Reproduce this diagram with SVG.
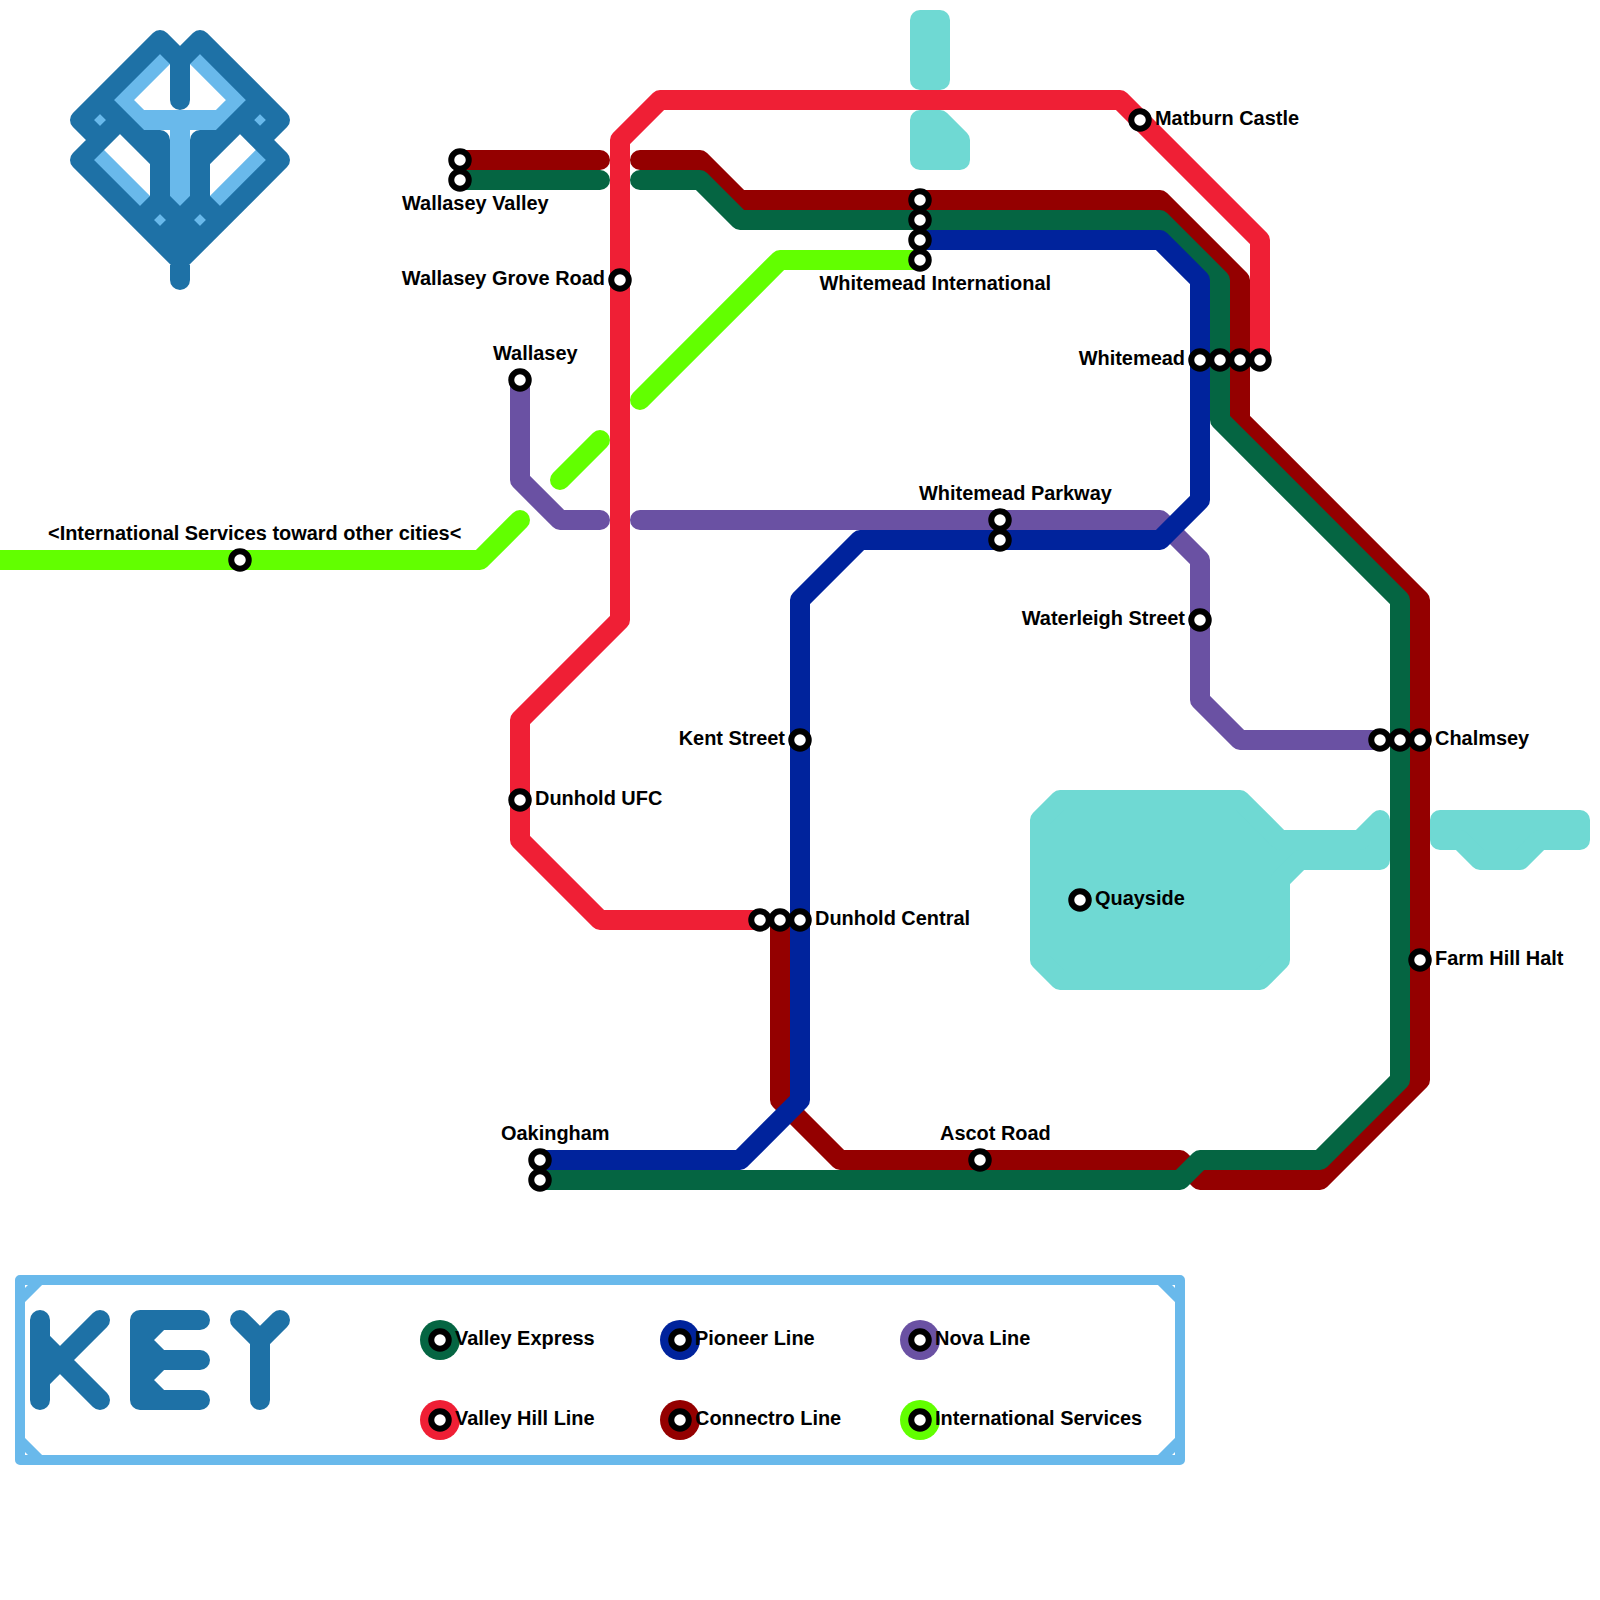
<svg xmlns="http://www.w3.org/2000/svg" width="1600" height="1600" viewBox="0 0 1600 1600">
<defs><style>
.l{fill:none;stroke-width:20;stroke-linecap:round;stroke-linejoin:round}
.water{fill:#6fd9d3;stroke:#6fd9d3;stroke-width:20;stroke-linejoin:round}
.dk{fill:none;stroke:#1e71a6;stroke-width:20;stroke-linecap:round;stroke-linejoin:round}
.lt{fill:none;stroke:#69b9eb;stroke-width:20;stroke-linejoin:miter}
.st{fill:#fff;stroke:#000;stroke-width:6}
text{font-family:"Liberation Sans",Arial,sans-serif;font-size:19.95px;font-weight:bold;fill:#000}
.e{text-anchor:end}
.box{fill:none;stroke:#69b9eb;stroke-width:10;stroke-linejoin:round;stroke-linecap:butt}
</style></defs>
<rect width="1600" height="1600" fill="#fff"/>
<g id="water">
<path class="water" d="M920,20H940V80H920Z"/>
<path class="water" d="M920,120H940L960,140V160H920Z"/>
<path class="water" d="M1040,820L1060,800H1240L1280,840H1360L1380,820V860H1300L1280,880V960L1260,980H1060L1040,960Z"/>
<path class="water" d="M1440,820H1580V840H1540L1520,860H1480L1460,840H1440Z"/>
</g>
<g id="logo">
<path class="lt" d="M172,48L92,128M188,48L268,128M120,100L140,120H220L240,100M180,120V222M90,150L168,228M270,150L192,228"/>
<path class="dk" d="M160,40L80,120L100,140M200,40L280,120L260,140M160,40L180,60L200,40M180,60V100M80,160L120,120M280,160L240,120M80,160L180,260L280,160M180,230V280M100,100L160,160V200M260,100L200,160V200M140,140H160V160M220,140H200V160M140,220L160,200L200,240M220,220L200,200L160,240"/>
</g>
<g id="connectors">
<path class="l" stroke="#940000" d="M460,160H600"/>
<path class="l" stroke="#940000" d="M640,160H700L740,200H1160L1240,280V420L1420,600V1080L1320,1180H1200L1180,1160H840L780,1100V920"/>
<path class="l" stroke="#056542" d="M460,180H600"/>
<path class="l" stroke="#056542" d="M640,180H700L740,220H1160L1220,280V420L1400,600V1080L1320,1160H1200L1180,1180H540"/>
<path class="l" stroke="#6a51a3" d="M520,380V480L560,520H600"/>
<path class="l" stroke="#6a51a3" d="M640,520H1160L1200,560V700L1240,740H1380"/>
<path class="l" stroke="#00239c" d="M540,1160H740L800,1100V600L860,540H1160L1200,500V280L1160,240H920"/>
<path class="l" stroke="#ef1f35" d="M1260,360V240L1120,100H660L620,140V620L520,720V840L600,920H760"/>
<path class="l" stroke="#62ff00" d="M-20,560H480L520,520"/>
<path class="l" stroke="#62ff00" d="M560,480L600,440"/>
<path class="l" stroke="#62ff00" d="M640,400L780,260H920"/>
</g>
<g id="station-matburn-castle"><circle class="st" cx="1140" cy="120" r="8.75"/><text x="1155" y="125">Matburn Castle</text></g>
<g id="station-wallasey-valley"><circle class="st" cx="460" cy="160" r="8.75"/><circle class="st" cx="460" cy="180" r="8.75"/><text x="402" y="210">Wallasey Valley</text></g>
<g id="station-wallasey-grove-road"><circle class="st" cx="620" cy="280" r="8.75"/><text class="e" x="605" y="285">Wallasey Grove Road</text></g>
<g id="station-wallasey"><circle class="st" cx="520" cy="380" r="8.75"/><text x="493" y="360">Wallasey</text></g>
<g id="station-international"><circle class="st" cx="240" cy="560" r="8.75"/><text x="48" y="540">&lt;International Services toward other cities&lt;</text></g>
<g id="station-whitemead-international"><circle class="st" cx="920" cy="200" r="8.75"/><circle class="st" cx="920" cy="220" r="8.75"/><circle class="st" cx="920" cy="240" r="8.75"/><circle class="st" cx="920" cy="260" r="8.75"/><text x="819.5" y="290">Whitemead International</text></g>
<g id="station-whitemead"><circle class="st" cx="1200" cy="360" r="8.75"/><circle class="st" cx="1220" cy="360" r="8.75"/><circle class="st" cx="1240" cy="360" r="8.75"/><circle class="st" cx="1260" cy="360" r="8.75"/><text class="e" x="1185" y="365">Whitemead</text></g>
<g id="station-whitemead-parkway"><circle class="st" cx="1000" cy="520" r="8.75"/><circle class="st" cx="1000" cy="540" r="8.75"/><text x="919" y="500">Whitemead Parkway</text></g>
<g id="station-waterleigh-street"><circle class="st" cx="1200" cy="620" r="8.75"/><text class="e" x="1185" y="625">Waterleigh Street</text></g>
<g id="station-kent-street"><circle class="st" cx="800" cy="740" r="8.75"/><text class="e" x="785" y="745">Kent Street</text></g>
<g id="station-chalmsey"><circle class="st" cx="1380" cy="740" r="8.75"/><circle class="st" cx="1400" cy="740" r="8.75"/><circle class="st" cx="1420" cy="740" r="8.75"/><text x="1435" y="745">Chalmsey</text></g>
<g id="station-dunhold-ufc"><circle class="st" cx="520" cy="800" r="8.75"/><text x="535" y="805">Dunhold UFC</text></g>
<g id="station-quayside"><circle class="st" cx="1080" cy="900" r="8.75"/><text x="1095" y="905">Quayside</text></g>
<g id="station-dunhold-central"><circle class="st" cx="760" cy="920" r="8.75"/><circle class="st" cx="780" cy="920" r="8.75"/><circle class="st" cx="800" cy="920" r="8.75"/><text x="815" y="925">Dunhold Central</text></g>
<g id="station-farm-hill-halt"><circle class="st" cx="1420" cy="960" r="8.75"/><text x="1435" y="965">Farm Hill Halt</text></g>
<g id="station-oakingham"><circle class="st" cx="540" cy="1160" r="8.75"/><circle class="st" cx="540" cy="1180" r="8.75"/><text x="501" y="1140">Oakingham</text></g>
<g id="station-ascot-road"><circle class="st" cx="980" cy="1160" r="8.75"/><text x="940" y="1140">Ascot Road</text></g>
<g id="key">
<path class="box" d="M20,1280H1180V1460H20ZM20,1300L40,1280M1160,1280L1180,1300M20,1440L40,1460M1160,1460L1180,1440"/>
<path class="dk" d="M40,1320V1400M40,1340L60,1360L40,1380M100,1320L60,1360L100,1400"/>
<path class="dk" d="M200,1320H140V1400H200M140,1360H200M160,1320L140,1340L160,1360L140,1380L160,1400"/>
<path class="dk" d="M240,1320L260,1340L280,1320M260,1340V1400"/>
<g id="key-valley-express"><circle cx="440" cy="1340" r="20" fill="#056542"/><circle class="st" cx="440" cy="1340" r="8.75"/><text x="455" y="1345">Valley Express</text></g>
<g id="key-valley-hill"><circle cx="440" cy="1420" r="20" fill="#ef1f35"/><circle class="st" cx="440" cy="1420" r="8.75"/><text x="455" y="1425">Valley Hill Line</text></g>
<g id="key-pioneer"><circle cx="680" cy="1340" r="20" fill="#00239c"/><circle class="st" cx="680" cy="1340" r="8.75"/><text x="695" y="1345">Pioneer Line</text></g>
<g id="key-connectro"><circle cx="680" cy="1420" r="20" fill="#940000"/><circle class="st" cx="680" cy="1420" r="8.75"/><text x="695" y="1425">Connectro Line</text></g>
<g id="key-nova"><circle cx="920" cy="1340" r="20" fill="#6a51a3"/><circle class="st" cx="920" cy="1340" r="8.75"/><text x="935" y="1345">Nova Line</text></g>
<g id="key-international"><circle cx="920" cy="1420" r="20" fill="#62ff00"/><circle class="st" cx="920" cy="1420" r="8.75"/><text x="935" y="1425">International Services</text></g>
</g>
</svg>
